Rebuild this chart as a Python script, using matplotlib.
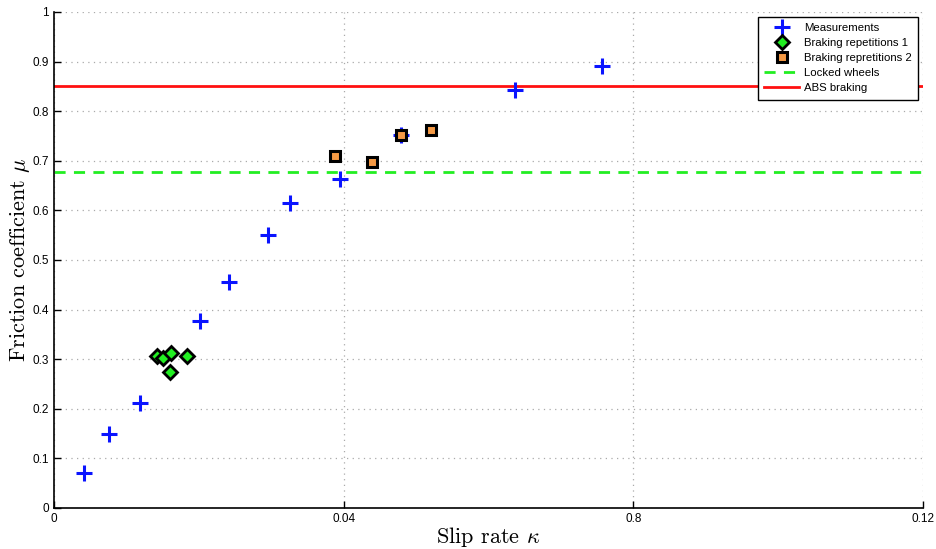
import numpy as np
import matplotlib
matplotlib.use("Agg")
import matplotlib.pyplot as plt

plt.rcParams['font.family'] = ['Liberation Sans', 'DejaVu Sans']
plt.rcParams['mathtext.fontset'] = 'cm'

# measured friction curve
meas_x = [0.0041, 0.0076, 0.0119, 0.0201, 0.0242, 0.0295, 0.0326, 0.0395, 0.0479, 0.0637, 0.0757]
meas_y = [0.070, 0.149, 0.211, 0.377, 0.456, 0.550, 0.615, 0.663, 0.752, 0.843, 0.892]

# braking repetitions
rep1_x = [0.0142, 0.0150, 0.0161, 0.0184, 0.0160]
rep1_y = [0.306, 0.302, 0.312, 0.307, 0.274]
rep2_x = [0.0388, 0.0439, 0.0479, 0.0521]
rep2_y = [0.710, 0.698, 0.752, 0.763]

locked_mu = 0.678
abs_mu = 0.850

xticks = [0, 0.04, 0.08, 0.12]
xticklabels = ['0', '0.04', '0.8', '0.12']
yticks = np.arange(0, 1.01, 0.1)
yticklabels = ['0', '0.1', '0.2', '0.3', '0.4', '0.5', '0.6', '0.7', '0.8', '0.9', '1']

fig = plt.figure(figsize=(9.36, 5.49), dpi=100)
ax = fig.add_axes([54/936, 41/549, 869/936, 496/549])

lw_locked = ax.axhline(locked_mu, color='#22ee22', lw=2, dashes=(4, 3), zorder=2, label='Locked wheels')
lw_abs = ax.axhline(abs_mu, color='#ff1010', lw=2, zorder=2, label='ABS braking')

h_meas, = ax.plot(meas_x, meas_y, '+', color='#0a14ff', ms=11, mew=2.2, zorder=3, label='Measurements')
h_rep1, = ax.plot(rep1_x, rep1_y, 'D', mfc='#22ee22', mec='k', ms=7, mew=2, zorder=4,
                  label='Braking repetitions 1')
h_rep2, = ax.plot(rep2_x, rep2_y, 's', mfc='#f59a45', mec='k', ms=7.5, mew=2.2, zorder=4,
                  label='Braking repretitions 2')

ax.set_xlim(0, 0.12)
ax.set_ylim(0, 1)
ax.set_xticks(xticks)
ax.set_xticklabels(xticklabels)
ax.set_yticks(yticks)
ax.set_yticklabels(yticklabels)
ax.tick_params(direction='in', length=5, labelsize=8.5, width=1)
ax.grid(True, color='#aaaaaa', linestyle=(0, (1, 3.5)), lw=0.9)
ax.spines['top'].set_visible(False)
ax.spines['right'].set_visible(False)
ax.spines['left'].set_linewidth(1.2)
ax.spines['bottom'].set_linewidth(1.2)

ax.set_xlabel(r'Slip rate $\kappa$', family='cmr10', fontsize=16, labelpad=0)
ax.set_ylabel(r'Friction coefficient $\mu$', family='cmr10', fontsize=16, labelpad=0.5)

leg = ax.legend(handles=[h_meas, h_rep1, h_rep2, lw_locked, lw_abs], loc='upper right',
                fontsize=8.2, fancybox=False, framealpha=1, edgecolor='k',
                borderaxespad=0.4, handlelength=3.1, handletextpad=0.45,
                labelspacing=0.45, borderpad=0.55)
leg.get_frame().set_linewidth(1)

fig.savefig('out.png', dpi=100)
